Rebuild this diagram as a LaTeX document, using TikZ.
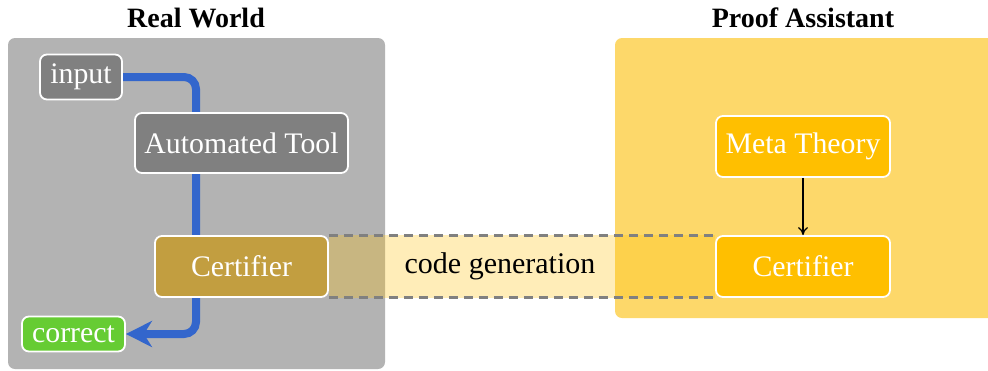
\documentclass[tikz,border=0pt]{standalone}
\usepackage{fontspec}
\setmainfont{Liberation Serif}
\usetikzlibrary{arrows.meta, positioning, backgrounds}
\definecolor{boxgray} {RGB}{179,179,179}
\definecolor{toolgray}{RGB}{128,128,128}
\definecolor{certbrn} {RGB}{194,158, 64}
\definecolor{okgrn}   {RGB}{102,204, 51}
\definecolor{flowblu} {RGB}{ 51,102,204}
\definecolor{paylw}   {RGB}{253,216,106}
\definecolor{gold}    {RGB}{255,191,  0}
\pgfdeclarelayer{bottom}
\pgfsetlayers{bottom,background,main}
\tikzset{
  % Large region box
  RG/.style={rectangle,rounded corners=3.5pt,draw=none,fill=#1,inner sep=0pt},
  % White-bordered node, filled
  NB/.style={rectangle,rounded corners=3.5pt,draw=white,fill=#1,text=white,
             line width=0.9pt,font=\fontsize{14.9}{17}\selectfont,inner sep=2pt},
  % Region title
  TT/.style={font=\fontsize{14}{16}\selectfont\bfseries,inner sep=0pt},
  % Arrows
  Flow/.style={-{Stealth[length=13pt,width=13pt,inset=4pt]},line width=4pt,
               color=flowblu,rounded corners=6pt},
  Arr/.style ={-{To[length=4pt,width=5pt]},line width=0.6pt,color=black},
  Dsh/.style ={color=toolgray,line width=1.5pt,dash pattern=on 4.5pt off 3pt},
}
\begin{document}
\begin{tikzpicture}[x=0.5pt,y=-0.5pt]
      \useasboundingbox (0,0) rectangle (988,370);
      \node[TT] at (196,18) (rwt) {Real World};
      \node[TT] at (803,18) (pat) {Proof Assistant};
      % Real world side
      \node[NB=toolgray,minimum width=41pt,minimum height=22.5pt]
            at (81,77) (input) {input};
      \node[NB=toolgray,minimum width=106.5pt,minimum height=30pt]
            at (241.5,143) (auto) {Automated Tool};
      \node[NB=certbrn,minimum width=86.5pt,minimum height=30.5pt]
            at (241.5,266.5) (certL) {Certifier};
      \node[NB=okgrn,minimum width=51.5pt,minimum height=17.5pt]
            at (73.5,334) (correct) {correct};
      % Proof assistant side
      \node[NB=gold,minimum width=87pt,minimum height=30.5pt]
            at (803,146.5) (meta) {Meta Theory};
      \node[NB=gold,minimum width=87pt,minimum height=30.5pt]
            at (803,266.5) (certR) {Certifier};
      \draw[Arr] (meta)--(certR);
      \begin{pgfonlayer}{bottom}
        \node[RG=boxgray,minimum width=188.5pt,minimum height=165.5pt]
              at (196.5,203.5) (real) {};
        \node[RG=paylw,minimum width=192.5pt,minimum height=140pt]
              at (807.5,178) (pa) {};
      \end{pgfonlayer}
      \begin{scope}[on background layer]
        \coordinate (bend) at (196,334);
        \draw[Flow] (input.east) -| (bend) -- (correct.east);
        \fill[gold,opacity=0.28] (certL.north east) rectangle (certR.south west);
        \draw[Dsh] (certL.north east) -- (certR.north west);
        \draw[Dsh] (certL.south east) -- (certR.south west);
      \end{scope}
      \node[font=\fontsize{15}{17}\selectfont] at (500,266) (cg) {code generation};
    \end{tikzpicture}
\end{document}
